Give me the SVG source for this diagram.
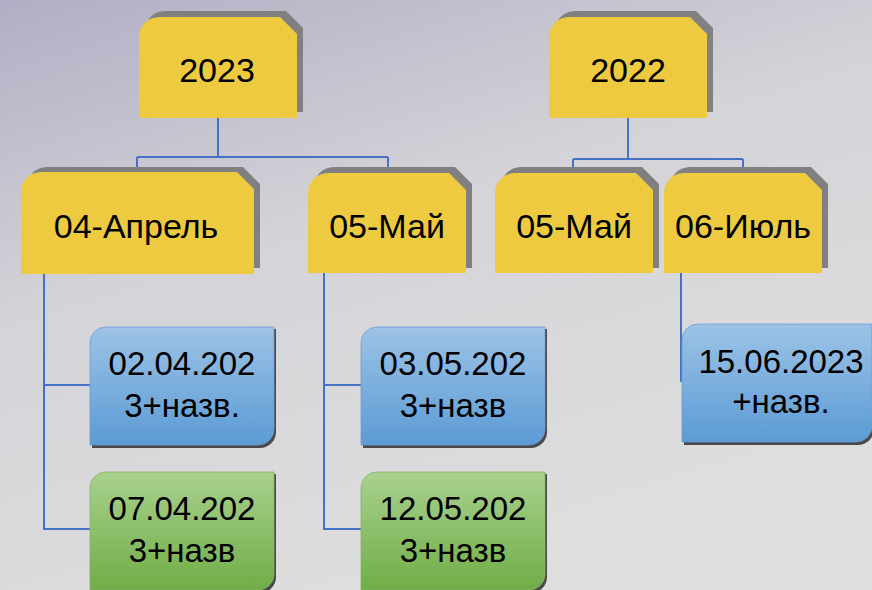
<svg xmlns="http://www.w3.org/2000/svg" width="872" height="590" viewBox="0 0 872 590">
<defs>
<linearGradient id="bg" x1="0" y1="0" x2="0.45" y2="1">
<stop offset="0" stop-color="#B0AEC4"/>
<stop offset="0.45" stop-color="#D4D3D8"/>
<stop offset="1" stop-color="#DEDEDE"/>
</linearGradient>
<linearGradient id="gBlue" x1="0" y1="0" x2="0" y2="1">
<stop offset="0" stop-color="#9DC3E6"/>
<stop offset="1" stop-color="#5B9BD5"/>
</linearGradient>
<linearGradient id="gGreen" x1="0" y1="0" x2="0" y2="1">
<stop offset="0" stop-color="#A9D18E"/>
<stop offset="1" stop-color="#70AD47"/>
</linearGradient>
</defs>
<style>
.sh{fill:#808080}
.y{fill:#EDCA40}
.lsh{fill:#4A4A4A}
.b{fill:url(#gBlue);stroke:#6E9BD2;stroke-width:0.8}
.g{fill:url(#gGreen);stroke:#86B26A;stroke-width:0.8}
.t{font-family:"Liberation Sans",Arial,sans-serif;font-size:34px;fill:#000;text-anchor:middle}
.s{font-size:33px}
.c{fill:none;stroke:#4472C4;stroke-width:2}
</style>
<rect x="0" y="0" width="872" height="590" fill="url(#bg)"/>

<g id="connectors">
<path class="c" d="M218 118 V157 M137 157 H388 M137 157 V172 M388 157 V173"/>
<path class="c" d="M628 118 V159 M573 159 H743 M573 159 V173 M743 159 V173"/>
<path class="c" d="M44 274 V529 H91 M44 385 H91"/>
<path class="c" d="M324 273 V529 H362 M324 385 H362"/>
<path class="c" d="M681 273 V382"/>
</g>

<g id="n2023">
<path class="sh" d="M145 111 V31 A20 20 0 0 1 165 11 H286 L303 28 V112 Z"/>
<path class="y" d="M139 118 V37 A20 20 0 0 1 159 17 H280 L297 34 V118 Z"/>
<text class="t" x="217" y="82">2023</text>
</g>

<g id="n2022">
<path class="sh" d="M555 111 V31 A20 20 0 0 1 575 11 H696 L713 28 V112 Z"/>
<path class="y" d="M549 118 V37 A20 20 0 0 1 569 17 H690 L707 34 V118 Z"/>
<text class="t" x="628" y="82">2022</text>
</g>

<g id="n0423">
<path class="sh" d="M27 267 V187 A20 20 0 0 1 47 167 H243 L260 184 V268 Z"/>
<path class="y" d="M21 274 V192 A20 20 0 0 1 41 172 H237 L254 189 V274 Z"/>
<text class="t" x="136" y="238">04-Апрель</text>
</g>

<g id="n0523">
<path class="sh" d="M314 267 V187 A20 20 0 0 1 334 167 H455 L472 184 V268 Z"/>
<path class="y" d="M308 273 V193 A20 20 0 0 1 328 173 H449 L466 190 V273 Z"/>
<text class="t" x="387" y="238">05-Май</text>
</g>

<g id="n0522">
<path class="sh" d="M501 267 V187 A20 20 0 0 1 521 167 H642 L659 184 V268 Z"/>
<path class="y" d="M495 273 V193 A20 20 0 0 1 515 173 H636 L653 190 V273 Z"/>
<text class="t" x="574" y="238">05-Май</text>
</g>

<g id="n0622">
<path class="sh" d="M670 267 V187 A20 20 0 0 1 690 167 H811 L828 184 V268 Z"/>
<path class="y" d="M664 273 V193 A20 20 0 0 1 684 173 H805 L822 190 V273 Z"/>
<text class="t" x="743" y="238">06-Июль</text>
</g>

<g id="l0204">
<path class="lsh" d="M92 448 V345 A16 16 0 0 1 108 329 H276 V432 A16 16 0 0 1 260 448 Z"/>
<path class="b" d="M90 445 V343 A16 16 0 0 1 106 327 H274 V429 A16 16 0 0 1 258 445 Z"/>
<text class="t s" x="182" y="375">02.04.202</text>
<text class="t s" x="182" y="417">3+назв.</text>
</g>

<g id="l0704">
<path class="lsh" d="M92 593 V490 A16 16 0 0 1 108 474 H276 V577 A16 16 0 0 1 260 593 Z"/>
<path class="g" d="M90 590 V488 A16 16 0 0 1 106 472 H274 V574 A16 16 0 0 1 258 590 Z"/>
<text class="t s" x="182" y="520">07.04.202</text>
<text class="t s" x="182" y="562">3+назв</text>
</g>

<g id="l0305">
<path class="lsh" d="M363 448 V345 A16 16 0 0 1 379 329 H547 V432 A16 16 0 0 1 531 448 Z"/>
<path class="b" d="M361 445 V343 A16 16 0 0 1 377 327 H545 V429 A16 16 0 0 1 529 445 Z"/>
<text class="t s" x="453" y="375">03.05.202</text>
<text class="t s" x="453" y="417">3+назв</text>
</g>

<g id="l1205">
<path class="lsh" d="M363 593 V490 A16 16 0 0 1 379 474 H547 V577 A16 16 0 0 1 531 593 Z"/>
<path class="g" d="M361 590 V488 A16 16 0 0 1 377 472 H545 V574 A16 16 0 0 1 529 590 Z"/>
<text class="t s" x="453" y="520">12.05.202</text>
<text class="t s" x="453" y="562">3+назв</text>
</g>

<g id="l1506">
<path class="lsh" d="M684 445 V342 A16 16 0 0 1 700 326 H874 V429 A16 16 0 0 1 858 445 Z"/>
<path class="b" d="M682 442 V340 A16 16 0 0 1 698 324 H872 V426 A16 16 0 0 1 856 442 Z"/>
<text class="t s" x="781" y="373">15.06.2023</text>
<text class="t s" x="781" y="413">+назв.</text>
</g>
</svg>
